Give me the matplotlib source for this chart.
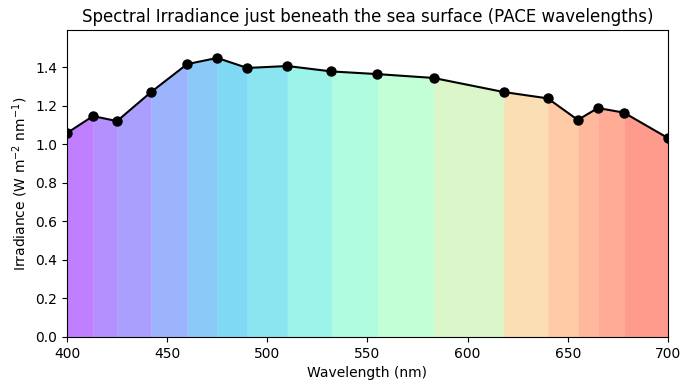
import matplotlib
matplotlib.use("Agg")
import matplotlib.pyplot as plt
import numpy as np

# PACE wavelengths (nm) and irradiance just below the surface (W m^-2 nm^-1)
wavelengths = [400, 413, 425, 442, 460, 475, 490, 510, 532, 555,
               583, 618, 640, 655, 665, 678, 700]
irradiance = [1.059, 1.147, 1.121, 1.272, 1.417, 1.449, 1.397, 1.407, 1.379,
              1.365, 1.345, 1.272, 1.239, 1.127, 1.189, 1.165, 1.033]

wl = np.array(wavelengths)
ed = np.array(irradiance)

fig, ax = plt.subplots(figsize=(6.89, 3.9), dpi=100)
fig.subplots_adjust(left=0.0972, right=0.9695, top=0.923, bottom=0.1359)

# colour each band by its starting wavelength
cmap = plt.get_cmap("rainbow")
norm = plt.Normalize(wl.min(), wl.max())
for i in range(len(wl) - 1):
    ax.fill_between(wl[i:i + 2], ed[i:i + 2], color=cmap(norm(wl[i])),
                    alpha=0.5, linewidth=0)

ax.plot(wl, ed, color="black", marker="o", markersize=6.5, linewidth=1.5)

ax.set_xlim(wl.min(), wl.max())
ax.set_ylim(0, ed.max() * 1.1)
ax.set_xlabel("Wavelength (nm)")
ax.set_ylabel(r"Irradiance (W m$^{-2}$ nm$^{-1}$)")
ax.set_title("Spectral Irradiance just beneath the sea surface (PACE wavelengths)")

fig.savefig("out.png", dpi=100)
plt.close(fig)
